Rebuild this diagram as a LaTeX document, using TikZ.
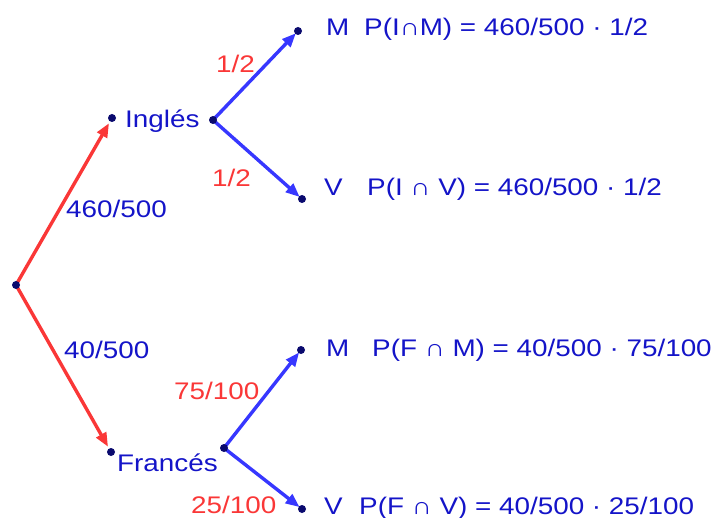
\documentclass[tikz,border=0pt]{standalone}
\usepackage{fontspec}
\setmainfont[FakeStretch=1.16]{Liberation Sans}
\usetikzlibrary{arrows.meta}
\definecolor{txtblue}{RGB}{20,20,200}
\definecolor{arrblue}{RGB}{55,55,255}
\definecolor{arrred}{RGB}{250,55,55}
\definecolor{dotnavy}{RGB}{10,10,110}
\tikzset{
  every node/.style={font=\fontsize{24}{28}\selectfont, inner sep=0pt, anchor=base west},
  bluetxt/.style={text=txtblue},
  redtxt/.style={text=arrred},
  redarrow/.style={draw=arrred, line width=3.4pt, -{Triangle[length=14pt,width=11pt]}, shorten >=6pt},
  bluearrow/.style={draw=arrblue, line width=3.4pt, -{Triangle[length=14pt,width=11pt]}, shorten >=3pt},
  dotmark/.style={fill=dotnavy}
}
\begin{document}
\begin{tikzpicture}[x=1pt,y=-1pt]
\useasboundingbox (0,0) rectangle (714,518);
% points
\coordinate (R) at (16,285);
\coordinate (I) at (112,118);
\coordinate (Ib) at (213,120);
\coordinate (IM) at (298,31);
\coordinate (IV) at (302,199);
\coordinate (F) at (111,452);
\coordinate (Fb) at (224,448);
\coordinate (FM) at (301,350);
\coordinate (FV) at (302,509);
% arrows
\draw[redarrow] (R) -- (I);
\draw[redarrow] (R) -- (F);
\draw[bluearrow] (Ib) -- (IM);
\draw[bluearrow] (Ib) -- (IV);
\draw[bluearrow] (Fb) -- (FM);
\draw[bluearrow] (Fb) -- (FV);
% dots
\foreach \p in {R,I,Ib,IM,IV,F,Fb,FM,FV} \fill[dotmark] (\p) circle (4pt);
% labels
\node[bluetxt] (tI) at (125,128) {Inglés};
\node[bluetxt] (tF) at (117,471) {Francés};
\node[bluetxt] (p1) at (66,218) {460/500};
\node[bluetxt] (p2) at (64,358) {40/500};
\node[redtxt] (q1) at (216,73) {1/2};
\node[redtxt] (q2) at (212,187) {1/2};
\node[redtxt] (q3) at (174,399) {75/100};
\node[redtxt] (q4) at (191,513) {25/100};
\node[bluetxt] (m1) at (326,36) {M};
\node[bluetxt] (e1) at (364,36) {P(I∩M) = 460/500 · 1/2};
\node[bluetxt] (v1) at (324,196) {V};
\node[bluetxt] (e2) at (367,196) {P(I ∩ V) = 460/500 · 1/2};
\node[bluetxt] (m2) at (326,356) {M};
\node[bluetxt] (e3) at (372,356) {P(F ∩ M) = 40/500 · 75/100};
\node[bluetxt] (v2) at (324,514) {V};
\node[bluetxt] (e4) at (359,514) {P(F ∩ V) = 40/500 · 25/100};
\end{tikzpicture}
\end{document}
